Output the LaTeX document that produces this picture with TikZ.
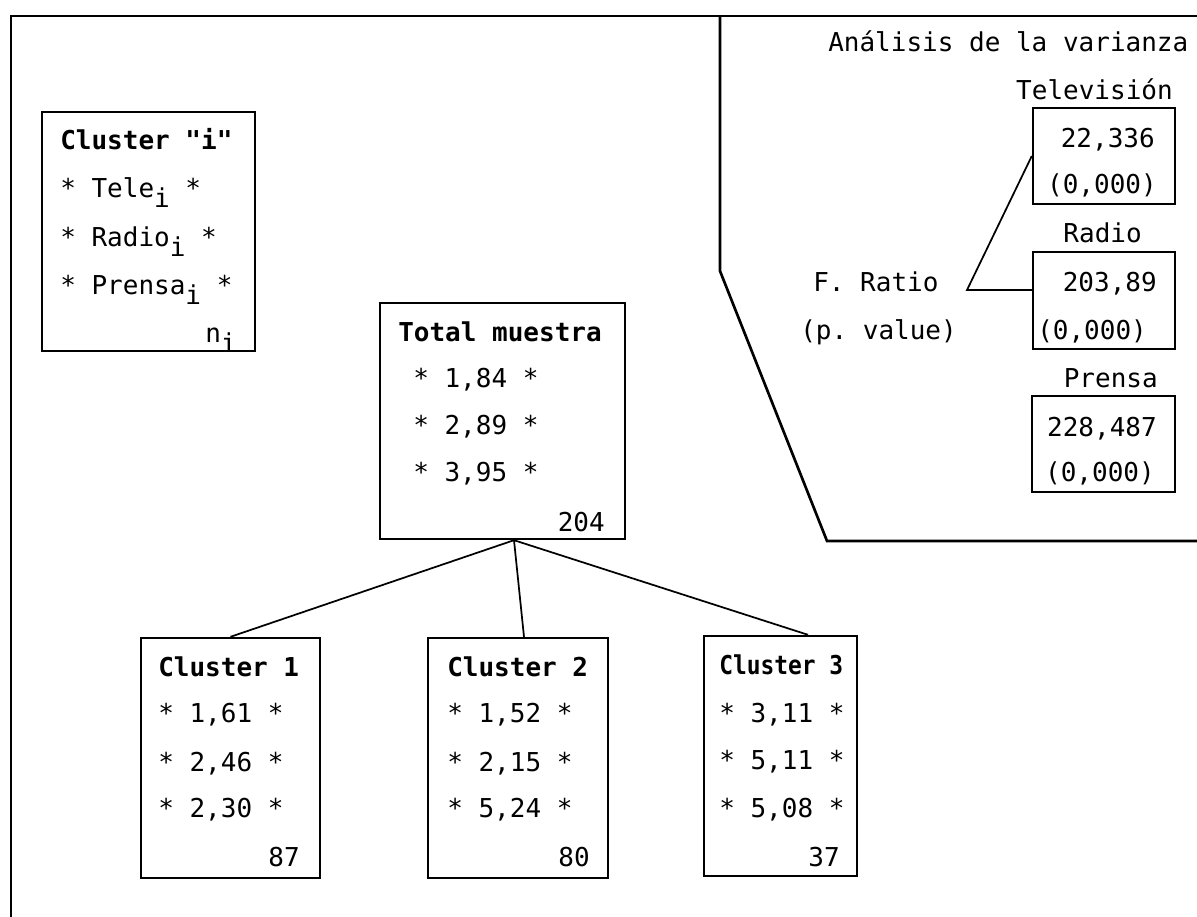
\documentclass[tikz,border=0pt]{standalone}
\usepackage{fontspec}
\setmonofont{DejaVu Sans Mono}
\usetikzlibrary{calc}
\tikzset{
  box/.style={draw, line width=1.8pt, inner sep=0pt},
  txt/.style={inner sep=0pt, anchor=base west, font=\fontsize{19.5}{22}\selectfont\ttfamily},
  rtxt/.style={txt, anchor=base east},
  btxt/.style={txt, font=\fontsize{19.5}{22}\selectfont\ttfamily\bfseries},
  conn/.style={line width=1.3pt},
  frameline/.style={line width=2pt, line join=miter},
}
\newcommand{\sbi}{\raisebox{-0.42em}{i}}
\begin{document}
\begin{tikzpicture}[x=0.75pt,y=-0.75pt]
\useasboundingbox (0,0) rectangle (1197,917);
% frame
\draw[frameline] (11,917) -- (11,16) -- (1197,16);
\draw[frameline] (720,16) -- (720,271) -- (827,541) -- (1197,541);

% Cluster "i" legend
\node[box, minimum width={213*0.75pt}, minimum height={239*0.75pt}] (ci) at (148.5,231.5) {};
\node[btxt] (ci0) at (60,149) {Cluster "i"};
\node[txt] (ci1) at (60,197) {* Tele\sbi{} *};
\node[txt] (ci2) at (60,246) {* Radio\sbi{} *};
\node[txt] (ci3) at (60,294) {* Prensa\sbi{} *};
\node[txt] (cin) at (205,342) {n\sbi};

% Total muestra
\node[box, minimum width={245*0.75pt}, minimum height={236*0.75pt}] (tot) at (502.5,421) {};
\node[btxt] (tot0) at (398,341) {Total muestra};
\node[txt] (tot1) at (413,387) {* 1,84 *};
\node[txt] (tot2) at (413,434) {* 2,89 *};
\node[txt] (tot3) at (413,481) {* 3,95 *};
\node[rtxt] (totn) at (605,531) {204};

% Cluster 1
\node[box, minimum width={179*0.75pt}, minimum height={240*0.75pt}] (c1) at (230.5,758) {};
\node[btxt] (c10) at (158,676) {Cluster 1};
\node[txt] (c11) at (158,722) {* 1,61 *};
\node[txt] (c12) at (158,771) {* 2,46 *};
\node[txt] (c13) at (158,817) {* 2,30 *};
\node[rtxt] (c1n) at (300,866) {87};

% Cluster 2
\node[box, minimum width={180*0.75pt}, minimum height={240*0.75pt}] (c2) at (518,758) {};
\node[btxt] (c20) at (447,676) {Cluster 2};
\node[txt] (c21) at (447,722) {* 1,52 *};
\node[txt] (c22) at (447,771) {* 2,15 *};
\node[txt] (c23) at (447,817) {* 5,24 *};
\node[rtxt] (c2n) at (590,866) {80};

% Cluster 3
\node[box, minimum width={153*0.75pt}, minimum height={240*0.75pt}] (c3) at (780.5,756) {};
\node[btxt] (c30) at (719,674) {\scalebox{0.88}[1]{Cluster 3}};
\node[txt] (c31) at (719,722) {* 3,11 *};
\node[txt] (c32) at (719,769) {* 5,11 *};
\node[txt] (c33) at (719,817) {* 5,08 *};
\node[rtxt] (c3n) at (840,866) {37};

% tree connectors
\coordinate (tb) at ($(tot.south)+(11.5,0)$);
\draw[conn] (tb) -- (c1.north);
\draw[conn] (tb) -- ($(c2.north)+(6,0)$);
\draw[conn] (tb) -- ($(c3.north)+(27.5,0)$);

% Analisis de la varianza
\node[txt] (av) at (828,52) {Análisis de la varianza};
\node[rtxt] (tvl) at (1173,99) {Televisión};
\node[box, minimum width={142*0.75pt}, minimum height={96*0.75pt}] (tv) at (1104,156) {};
\node[rtxt] (tv1) at (1155,147) {22,336};
\node[rtxt] (tv2) at (1157,194) {(0,000)};

\node[rtxt] (rdl) at (1142,242) {Radio};
\node[box, minimum width={142*0.75pt}, minimum height={97*0.75pt}] (rd) at (1104,300.5) {};
\node[rtxt] (rd1) at (1157,291) {203,89};
\node[txt] (rd2) at (1037,339) {(0,000)};

\node[rtxt] (prl) at (1158,387) {Prensa};
\node[box, minimum width={143*0.75pt}, minimum height={96*0.75pt}] (pr) at (1103.5,444) {};
\node[rtxt] (pr1) at (1157,436) {228,487};
\node[rtxt] (pr2) at (1155,481) {(0,000)};

\node[txt] (fr) at (813,291) {F. Ratio};
\node[txt] (pv) at (800,339) {(p. value)};
\coordinate (fj) at (967,290);
\draw[conn] (tv.west) -- (fj) -- (fj -| rd.west);
\end{tikzpicture}
\end{document}
